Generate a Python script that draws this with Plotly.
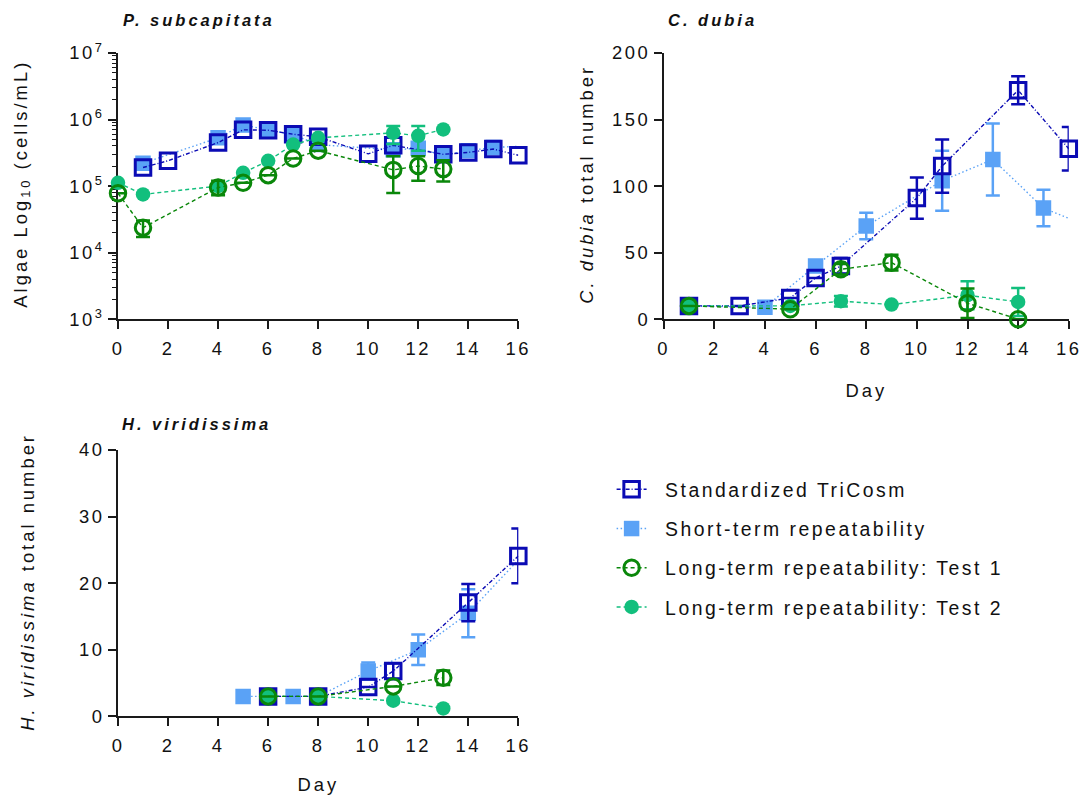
import plotly.graph_objects as go

FONT = "Liberation Sans, Arial, sans-serif"
W, H = 1081, 800

SERIES = [
    "Standardized TriCosm",
    "Short-term repeatability",
    "Long-term repeatability: Test 1",
    "Long-term repeatability: Test 2",
]
DAY_TICKS = [0, 2, 4, 6, 8, 10, 12, 14, 16]

# ---- P. subcapitata: algal density (cells/mL) ----
ps_std_day = [1, 2, 4, 5, 6, 7, 8, 10, 11, 13, 14, 15, 16]
ps_std = [1.9e5, 2.4e5, 4.5e5, 7.0e5, 6.9e5, 6.0e5, 5.5e5, 3.05e5, 4.1e5, 3.0e5, 3.2e5, 3.6e5, 2.9e5]

ps_short_day = [1, 4, 5, 6, 7, 8, 11, 12, 13, 14, 15, 17]
ps_short = [2.2e5, 5.3e5, 8.3e5, 7.0e5, 5.9e5, 4.2e5, 3.5e5, 3.7e5, 2.9e5, 3.4e5, 3.8e5, 4.1e5]

ps_t1_day = [0, 1, 4, 5, 6, 7, 8, 11, 12, 13]
ps_t1 = [7.8e4, 2.37e4, 9.5e4, 1.12e5, 1.46e5, 2.6e5, 3.4e5, 1.75e5, 2.0e5, 1.8e5]
ps_t1_up = [None, 0.68e4, 2.5e4, None, None, None, None, 1.05e5, 0.8e5, 0.65e5]
ps_t1_dn = [None, 0.65e4, 2.2e4, None, None, None, None, 0.96e5, 0.8e5, 0.63e5]

ps_t2_day = [0, 1, 4, 5, 6, 7, 8, 11, 12, 13]
ps_t2 = [1.12e5, 7.5e4, 1.0e5, 1.58e5, 2.4e5, 4.2e5, 5.3e5, 6.3e5, 5.7e5, 7.1e5]
ps_t2_up = [None, None, None, None, None, None, None, 1.7e5, 2.3e5, None]
ps_t2_dn = [None, None, None, None, None, None, None, 2.0e5, 2.3e5, None]

# ---- C. dubia: total number ----
cd_std_day = [1, 3, 5, 6, 7, 10, 11, 14, 16]
cd_std = [10, 10, 16, 31, 40, 91, 115, 172, 128]
cd_std_err = [None, None, None, None, 6, 15.5, 20, 10.5, 16.3]

cd_short_day = [1, 4, 6, 8, 11, 13, 15, 17]
cd_short = [10, 9, 40, 70, 104, 120, 83.5, 68]
cd_short_err = [None, None, None, 10, 22.5, 27, 13.7, None]

cd_t1_day = [1, 5, 7, 9, 12, 14]
cd_t1 = [10, 7.5, 37.5, 42.5, 12, 0]
cd_t1_err = [None, None, 4, 6, 11, None]

cd_t2_day = [1, 5, 7, 9, 12, 14]
cd_t2 = [10, 10, 13.5, 11, 18, 13]
cd_t2_err = [None, None, 4, None, 10.5, 10.5]

# ---- H. viridissima: total number ----
hv_std_day = [6, 8, 10, 11, 14, 16]
hv_std = [3, 3, 4.4, 6.8, 17.1, 24.1]
hv_std_err = [None, None, None, 1.2, 2.8, 4.1]

hv_short_day = [5, 6, 7, 8, 10, 12, 14, 17]
hv_short = [3, 3, 3, 3, 6.8, 10, 15.5, 27.5]
hv_short_err = [None, None, None, None, 1.3, 2.3, 3.6, None]

hv_t1_day = [6, 8, 11, 13]
hv_t1 = [3, 3, 4.5, 5.8]
hv_t1_err = [None, None, None, 1.1]

hv_t2_day = [6, 8, 11, 13]
hv_t2 = [3, 3, 2.35, 1.2]

# ---- styles ----
STYLE = {
    SERIES[0]: dict(color="#0B0BB4", symbol="square-open", size=15.5, lw=3,
                    dash="4px,2px,1px,2px", rank=1),
    SERIES[1]: dict(color="#5AA2F6", symbol="square", size=15.5, lw=0,
                    dash="1.5px,2.5px", rank=2),
    SERIES[2]: dict(color="#0A870A", symbol="circle-open", size=15.5, lw=3,
                    dash="4px,3px", rank=3),
    SERIES[3]: dict(color="#12BF7D", symbol="circle", size=14.5, lw=0,
                    dash="4px,3px", rank=4),
}

fig = go.Figure()
shown = set()


def add_series(name, days, vals, xa, ya, up=None, dn=None, clip=False):
    st = STYLE[name]
    tr = dict(
        x=days, y=vals, mode="lines+markers", name=name,
        xaxis=xa, yaxis=ya, legendgroup=name, legendrank=st["rank"],
        showlegend=name not in shown, cliponaxis=clip,
        line=dict(color=st["color"], width=1.4, dash=st["dash"]),
        marker=dict(color=st["color"], symbol=st["symbol"], size=st["size"],
                    line=dict(color=st["color"], width=st["lw"])),
    )
    if up is not None:
        tr["error_y"] = dict(type="data", symmetric=dn is None, array=up,
                             arrayminus=dn if dn is not None else up,
                             color=st["color"], thickness=2.5, width=7)
    fig.add_trace(go.Scatter(**tr))
    shown.add(name)


# drawing order: short-term, standardized, test 2, test 1 (last on top)
add_series(SERIES[1], ps_short_day, ps_short, "x", "y", clip=True)
add_series(SERIES[0], ps_std_day, ps_std, "x", "y")
add_series(SERIES[3], ps_t2_day, ps_t2, "x", "y", ps_t2_up, ps_t2_dn)
add_series(SERIES[2], ps_t1_day, ps_t1, "x", "y", ps_t1_up, ps_t1_dn)

add_series(SERIES[1], cd_short_day, cd_short, "x2", "y2", cd_short_err, clip=True)
add_series(SERIES[0], cd_std_day, cd_std, "x2", "y2", cd_std_err)
add_series(SERIES[3], cd_t2_day, cd_t2, "x2", "y2", cd_t2_err)
add_series(SERIES[2], cd_t1_day, cd_t1, "x2", "y2", cd_t1_err)

add_series(SERIES[1], hv_short_day, hv_short, "x3", "y3", hv_short_err, clip=True)
add_series(SERIES[0], hv_std_day, hv_std, "x3", "y3", hv_std_err)
add_series(SERIES[3], hv_t2_day, hv_t2, "x3", "y3")
add_series(SERIES[2], hv_t1_day, hv_t1, "x3", "y3", hv_t1_err)

tickfont = dict(family=FONT, size=18.4, color="#111111")
axis_common = dict(
    showline=True, linecolor="#1a1a1a", linewidth=1.6, mirror=False,
    ticks="outside", ticklen=8, tickwidth=1.6, tickcolor="#1a1a1a",
    showgrid=False, zeroline=False, tickfont=tickfont, layer="below traces",
)
x_common = dict(range=[0, 16], tickvals=DAY_TICKS, ticklabelstandoff=4, **axis_common)

# pixel -> paper conversion, with the page calibration of the output frame
X_SCALE, X_SHIFT = 0.9853, 4.4
Y_SCALE, Y_SHIFT = 0.9725, 11.7


def px_x(p):
    return ((p - X_SHIFT) / X_SCALE) / W


def px_y(p):
    return 1 - ((p - Y_SHIFT) / Y_SCALE) / H


xdom_l = [px_x(117.3), px_x(517.3)]
xdom_r = [px_x(662.5), px_x(1067.3)]
ydom_top = [px_y(318.3), px_y(51.7)]
ydom_bot = [px_y(716.0), px_y(449.3)]

decades = [1e3, 1e4, 1e5, 1e6, 1e7]
minor_log = [k * d for d in decades[:-1] for k in range(2, 10)]

fig.update_layout(
    width=W, height=H,
    margin=dict(l=0, r=0, t=0, b=0),
    paper_bgcolor="white", plot_bgcolor="white",
    font=dict(family=FONT, size=18.4, color="#111111"),
    xaxis=dict(domain=xdom_l, anchor="y", **x_common),
    yaxis=dict(domain=ydom_top, anchor="x", type="log", range=[3, 7],
               tickvals=decades,
               ticktext=["10<sup>3</sup>", "10<sup>4</sup>", "10<sup>5</sup>",
                         "10<sup>6</sup>", "10<sup>7</sup>"],
               minor=dict(ticks="outside", ticklen=4, tickwidth=1.2,
                          tickcolor="#1a1a1a", tickvals=minor_log),
               **axis_common),
    xaxis2=dict(domain=xdom_r, anchor="y2", **x_common),
    yaxis2=dict(domain=ydom_top, anchor="x2", range=[0, 200],
                tickvals=[0, 50, 100, 150, 200], **axis_common),
    xaxis3=dict(domain=xdom_l, anchor="y3", **x_common),
    yaxis3=dict(domain=ydom_bot, anchor="x3", range=[0, 40],
                tickvals=[0, 10, 20, 30, 40], **axis_common),
    legend=dict(
        x=px_x(610.5), y=px_y(469.5), xanchor="left", yanchor="top",
        font=dict(family=FONT, size=19.4, color="#111111"),
        bgcolor="rgba(0,0,0,0)", tracegroupgap=11, itemwidth=30,
        traceorder="grouped",
    ),
    showlegend=True,
)

annots = [
    dict(text="<b><i>P. subcapitata</i></b>", x=px_x(198), y=px_y(19), size=16.5, angle=0),
    dict(text="<b><i>C. dubia</i></b>", x=px_x(711), y=px_y(19), size=16.5, angle=0),
    dict(text="<b><i>H. viridissima</i></b>", x=px_x(196), y=px_y(423), size=16.5, angle=0),
    dict(text="Algae Log<sub>10</sub> (cells/mL)", x=px_x(21), y=px_y(183), size=18.4, angle=-90),
    dict(text="<i>C. dubia</i> total number", x=px_x(585), y=px_y(183), size=18.4, angle=-90),
    dict(text="<i>H. viridissima</i> total number", x=px_x(27), y=px_y(581), size=18.4, angle=-90),
    dict(text="Day", x=px_x(866), y=px_y(390), size=18.4, angle=0),
    dict(text="Day", x=px_x(318), y=px_y(784), size=18.4, angle=0),
]
for a in annots:
    fig.add_annotation(
        text=a["text"], x=a["x"], y=a["y"], xref="paper", yref="paper",
        xanchor="center", yanchor="middle", textangle=a["angle"],
        showarrow=False, font=dict(family=FONT, size=a["size"], color="#111111"),
    )

# page styling: no body margin, the wide letter spacing of the figure text,
# and a wider gap between each legend symbol and its label
PAGE_CSS = (
    "html,body{margin:0;padding:0;overflow:hidden;background:#fff}"
    ".main-svg text{letter-spacing:2.5px}"
    ".main-svg .annotation-text{letter-spacing:3px}"
    ".main-svg .legend .scrollbox{clip-path:none !important}"
    ".main-svg .legend .legendtext{transform:translateX(13.5px)}"
)
post = (
    "var s=document.createElement('style');"
    f"s.textContent='{PAGE_CSS}';"
    "document.head.appendChild(s);"
)

fig.write_html("out.html", post_script=post)
